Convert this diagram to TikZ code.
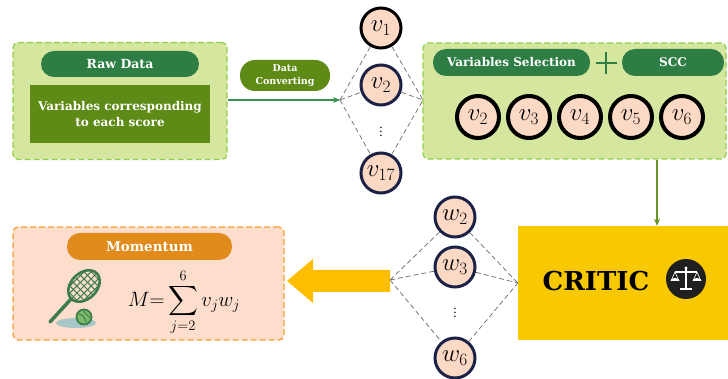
\documentclass[tikz,border=0pt]{standalone}
\usepackage{amsmath}
\usepackage{fontspec}
\setmainfont{DejaVu Serif}
\usetikzlibrary{arrows.meta,calc}

\definecolor{panelgreen}{HTML}{D5E69F}
\definecolor{framegreen}{HTML}{8FCF4E}
\definecolor{pillgreen}{HTML}{2E7D45}
\definecolor{olivegreen}{HTML}{5E8A16}
\definecolor{flowgreen}{HTML}{3C9150}
\definecolor{dropgreen}{HTML}{6A9426}
\definecolor{peach}{HTML}{FBD9C5}
\definecolor{navy}{HTML}{1C2246}
\definecolor{criticyellow}{HTML}{F8C800}
\definecolor{arrowyellow}{HTML}{FDBD00}
\definecolor{momfill}{HTML}{FDDDCB}
\definecolor{momframe}{HTML}{F6A136}
\definecolor{mompill}{HTML}{E08B1B}
\definecolor{linkgray}{HTML}{6A6A6A}
\definecolor{racket}{HTML}{3E7C4A}
\definecolor{ballgreen}{HTML}{7DBB6C}
\definecolor{shadowblue}{HTML}{A9C6C6}

\tikzset{
  greenframe/.style={draw=framegreen, fill=panelgreen, line width=1.3pt,
    dash pattern=on 6pt off 3pt, rounded corners=5pt},
  pill/.style={text=white, font=\bfseries\fontsize{12}{14}\selectfont,
    rounded corners=13pt, inner sep=0pt},
  vnode/.style={circle, fill=peach, draw=navy, line width=3pt,
    minimum size=40pt, inner sep=0pt, font=\fontsize{23}{23}\selectfont},
  selnode/.style={vnode, draw=black, line width=4pt, minimum size=42pt},
  link/.style={draw=linkgray, dash pattern=on 5pt off 3pt, line width=0.7pt},
}

\newcommand{\vv}[1]{$v_{#1}$}
\newcommand{\ww}[1]{$w_{#1}$}

\begin{document}
\begin{tikzpicture}[x=1pt,y=-1pt]
\useasboundingbox (0,0) rectangle (728,379);

% ---------- raw data panel ----------
\node[greenframe, minimum width=214pt, minimum height=117pt] (rawpanel) at (120,101) {};
\node[pill, fill=pillgreen, minimum width=158pt, minimum height=26pt,
  font=\bfseries\fontsize{12.5}{14}\selectfont] (rawtitle) at (120,64) {Raw Data};
\node[fill=olivegreen, text=white, minimum width=180pt, minimum height=58pt, align=center,
  font=\bfseries\fontsize{12}{16}\selectfont] (rawvars) at (120,114)
  {Variables corresponding\\to each score};

% ---------- conversion step ----------
\node[pill, fill=olivegreen, minimum width=90pt, minimum height=31pt, rounded corners=15pt,
  align=center, font=\bfseries\fontsize{9.5}{12.5}\selectfont] (convert) at (285,75.5)
  {Data\\Converting};

\coordinate (vin) at (340,100);
\coordinate (vout) at (423,100);

\node[vnode, draw=black] (v1) at (381,28) {\vv{1}};
\node[vnode] (v2) at (381,85) {\vv{2}};
\node[font=\fontsize{12}{12}\selectfont] (vdots) at (381,129) {$\vdots$};
\node[vnode] (v17) at (381,173) {\vv{17}};

\draw[flowgreen, line width=1.3pt, -{Stealth[length=7pt,width=6pt]}] (rawpanel.east |- vin) -- (vin);
\foreach \n in {v1,v2,v17}{
  \draw[link] (vin) -- (\n);
  \draw[link] (\n) -- (vout);
}

% ---------- selection panel ----------
\node[greenframe, minimum width=303pt, minimum height=116pt] (selpanel) at (574.5,101) {};
\node[pill, fill=pillgreen, minimum width=157pt, minimum height=27pt] (seltitle) at (511.5,62.5) {Variables Selection};
\node[pill, fill=pillgreen, minimum width=102pt, minimum height=27pt] (scctitle) at (673,62.5) {SCC};
\coordinate (plus) at (606,63);
\draw[pillgreen, line width=2.6pt] ($(plus)+(-10.5,0)$) -- ($(plus)+(10.5,0)$)
  ($(plus)+(0,-11)$) -- ($(plus)+(0,11)$);

\node[selnode] (s2) at (478,117) {\vv{2}};
\node[selnode] (s3) at (529,117) {\vv{3}};
\node[selnode] (s4) at (580,117) {\vv{4}};
\node[selnode] (s5) at (631,117) {\vv{5}};
\node[selnode] (s6) at (682,117) {\vv{6}};

% ---------- CRITIC ----------
\node[fill=criticyellow, minimum width=210pt, minimum height=114pt] (critic) at (623,283) {};
\node[font=\bfseries\fontsize{26}{26}\selectfont] (critictext) at (596,281) {CRITIC};
\coordinate (dropx) at (657,0);
\draw[dropgreen, line width=1.3pt, -{Stealth[length=7pt,width=6pt]}]
  (selpanel.south -| dropx) -- (critic.north -| dropx);

% balance icon
\node[circle, fill=black!88, minimum size=40pt, inner sep=0pt] (scales) at (686,279) {};
\begin{scope}[white, line width=1.1pt]
  \fill ($(scales)+(0,-11)$) circle (1.6pt);
  \draw ($(scales)+(0,-10)$) -- ($(scales)+(0,10)$);
  \draw ($(scales)+(-11,-7)$) -- ($(scales)+(11,-7)$);
  \draw[line width=0.6pt] ($(scales)+(-11,-7)$) -- ($(scales)+(-15,2)$)
    ($(scales)+(-11,-7)$) -- ($(scales)+(-7,2)$)
    ($(scales)+(11,-7)$) -- ($(scales)+(15,2)$)
    ($(scales)+(11,-7)$) -- ($(scales)+(7,2)$);
  \fill ($(scales)+(-15.5,2)$) arc[start angle=180, end angle=360, x radius=4.5pt, y radius=-3pt] -- cycle;
  \fill ($(scales)+(6.5,2)$) arc[start angle=180, end angle=360, x radius=4.5pt, y radius=-3pt] -- cycle;
  \fill ($(scales)+(-6,9)$) rectangle ($(scales)+(6,11.5)$);
\end{scope}

% ---------- weights ----------
\coordinate (win) at (390,280);
\node[vnode] (w2) at (455,217) {\ww{2}};
\node[vnode] (w3) at (455,267) {\ww{3}};
\node[font=\fontsize{12}{12}\selectfont] (wdots) at (455,310) {$\vdots$};
\node[vnode] (w6) at (455,358) {\ww{6}};
\foreach \n in {w2,w3,w6}{
  \draw[link] (win) -- (\n);
  \draw[link] (\n) -- (critic.west);
}

% big arrow towards the momentum panel
\fill[arrowyellow] (win) ++(0,-10) -- ++(-77,0) -- ++(0,-11) -- ++(-26,22) -- ++(26,22)
  -- ++(0,-11) -- ++(77,0) -- cycle;

% ---------- momentum panel ----------
\node[draw=momframe, fill=momfill, line width=1.3pt, dash pattern=on 6pt off 3pt,
  rounded corners=5pt, minimum width=271pt, minimum height=113pt] (mompanel) at (148.5,283.5) {};
\node[pill, fill=mompill, minimum width=165pt, minimum height=27pt,
  font=\bfseries\fontsize{13.5}{15}\selectfont] (momtitle) at (149.5,246.5) {Momentum};
\node[font=\fontsize{22}{22}\selectfont] (formula) at (184,302)
  {$\displaystyle M{=}\sum_{j=2}^{6} v_j w_j$};

% tennis racket and ball
\coordinate (racket) at (84,286);
\fill[shadowblue] (76,323) ellipse[x radius=20pt, y radius=5pt];
\draw[racket, line width=3.5pt, line cap=round] (71,299) -- (50,322);
\begin{scope}[rotate around={-45:(racket)}]
  \begin{scope}
    \clip (racket) ellipse[x radius=13pt, y radius=18pt];
    \foreach \d in {-15,-10,...,15}{
      \draw[racket, line width=1pt] ($(racket)+(\d,-20)$) -- ++(0,40);
      \draw[racket, line width=1pt] ($(racket)+(-20,\d)$) -- ++(40,0);
    }
  \end{scope}
  \draw[racket, line width=2.6pt] (racket) ellipse[x radius=13pt, y radius=18pt];
\end{scope}
\node[circle, fill=ballgreen, draw=racket, line width=1.8pt, minimum size=15pt, inner sep=0pt] (ball) at (84,317) {};
\draw[racket, line width=1pt] ($(ball)+(-5,-3)$) .. controls ($(ball)+(0,-1)$) .. ($(ball)+(2,5)$);
\draw[racket, line width=1pt] ($(ball)+(-1,-6)$) .. controls ($(ball)+(2,-2)$) .. ($(ball)+(6,1)$);
\end{tikzpicture}
\end{document}
